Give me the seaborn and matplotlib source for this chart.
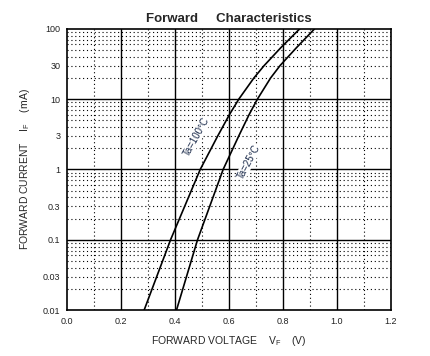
import numpy as np
import pandas as pd
import seaborn as sns
import matplotlib.pyplot as plt
from matplotlib.ticker import FixedLocator, MultipleLocator, NullFormatter

plt.switch_backend("Agg")

# forward current (mA) and voltage (V)
current_ma = [0.01, 0.1, 1, 3, 6, 10, 20, 30, 54, 100]
vf_100c = [0.285, 0.383, 0.493, 0.558, 0.601, 0.636, 0.692, 0.730, 0.792, 0.862]
vf_25c = [0.405, 0.483, 0.578, 0.636, 0.674, 0.705, 0.754, 0.789, 0.850, 0.917]

y_ticks = [0.01, 0.03, 0.1, 0.3, 1, 3, 10, 30, 100]
y_tick_labels = ["0.01", "0.03", "0.1", "0.3", "1", "3", "10", "30", "100"]
x_ticks = [0.0, 0.2, 0.4, 0.6, 0.8, 1.0, 1.2]

sns.set_style("white")
plt.rcParams["font.family"] = ["Liberation Sans", "DejaVu Sans"]
plt.rcParams["mathtext.fontset"] = "custom"
plt.rcParams["mathtext.rm"] = "Liberation Sans"

df = pd.concat([
    pd.DataFrame({"vf": vf_100c, "if": current_ma, "ta": "100"}),
    pd.DataFrame({"vf": vf_25c, "if": current_ma, "ta": "25"}),
])

fig = plt.figure(figsize=(4.3, 3.56), dpi=100)
ax = fig.add_axes([0.1565, 0.129, 0.7525, 0.790])

ax.set_yscale("log")
ax.set_xlim(0, 1.2)
ax.set_ylim(0.01, 100)

ax.xaxis.set_major_locator(FixedLocator(x_ticks))
ax.xaxis.set_minor_locator(MultipleLocator(0.1))
ax.yaxis.set_major_locator(FixedLocator(y_ticks))
minor_y = [m * 10.0 ** e for e in range(-2, 2) for m in range(2, 10)]
ax.yaxis.set_minor_locator(FixedLocator(minor_y))
ax.yaxis.set_minor_formatter(NullFormatter())
ax.set_yticklabels(y_tick_labels)
ax.set_xticklabels([f"{v:.1f}" for v in x_ticks])

# grid: solid at majors, dotted in between
ax.grid(False)
for v in np.arange(0.2, 1.2, 0.2):
    ax.axvline(v, color="black", lw=1.0, zorder=1)
for v in np.arange(0.1, 1.2, 0.2):
    ax.axvline(v, color="black", lw=0.8, ls=(0, (1, 2.5)), zorder=1)
for v in [0.1, 1, 10]:
    ax.axhline(v, color="black", lw=1.0, zorder=1)
for v in minor_y:
    ax.axhline(v, color="black", lw=0.8, ls=(0, (1, 2.5)), zorder=1)

sns.lineplot(data=df, x="vf", y="if", units="ta", estimator=None, sort=False,
             color="black", lw=1.2, ax=ax, legend=False, zorder=3)

ax.tick_params(which="both", length=0, labelsize=6.5, pad=5, colors="#222222")
for s in ax.spines.values():
    s.set_color("black")
    s.set_linewidth(1.2)

ax.text(0.480, 2.9, "Ta=100\u00b0C", rotation=61, fontsize=7, color="#1a2a4a",
        ha="center", va="center", zorder=4,
        bbox=dict(facecolor="white", edgecolor="none", pad=0.3))
ax.text(0.672, 1.28, "Ta=25\u00b0C", rotation=62, fontsize=7, color="#1a2a4a",
        ha="center", va="center", zorder=4,
        bbox=dict(facecolor="white", edgecolor="none", pad=0.3))

ax.set_title("Forward     Characteristics", fontsize=9.5, fontweight="bold", pad=5)
ax.set_xlabel(r"FORWARD VOLTAGE    $\mathregular{V_F}$    (V)", fontsize=7.5, labelpad=6)
ax.set_ylabel(r"FORWARD CURRENT    $\mathregular{I_F}$    (mA)", fontsize=7.5, labelpad=8)

fig.savefig("out.png", dpi=100)
plt.close(fig)
